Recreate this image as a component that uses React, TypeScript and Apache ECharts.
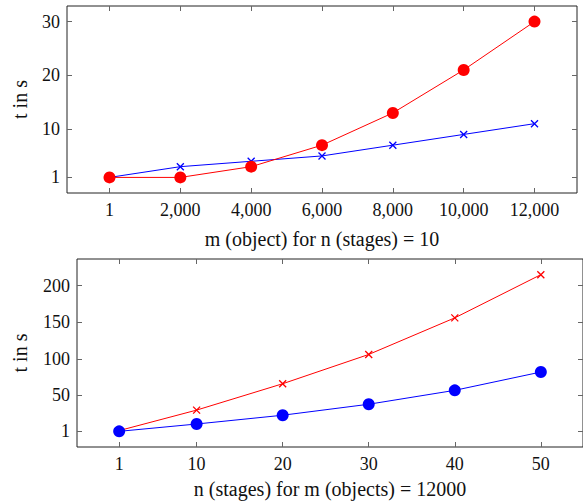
import React, { useEffect, useRef } from "react";
import * as echarts from "echarts";

// Top chart: m (objects) for n (stages) = 10
const topCategories = ["1", "2,000", "4,000", "6,000", "8,000", "10,000", "12,000"];
const topRed = [1, 1, 3, 7, 13, 21, 30];
const topBlue = [1, 3, 4, 5, 7, 9, 11];
const topYTicks = [1, 10, 20, 30];

// Bottom chart: n (stages) for m (objects) = 12000
const botX = [1, 10, 20, 30, 40, 50];
const botRed = [2, 30, 66, 106, 156, 215];
const botBlue = [1, 11, 23, 38, 57, 82];
const botYTicks = [1, 50, 100, 150, 200];

const FONT = "'Liberation Serif', 'DejaVu Serif', serif";
const CROSS = "path://M0,0L10,10M10,0L0,10";

export default function App() {
  const ref = useRef<HTMLDivElement>(null);
  useEffect(() => {
    if (!ref.current) return;
    const chart = echarts.init(ref.current, undefined, { renderer: "svg" });
    const topIdx = topCategories.map((_, i) => i);
    const tick = (vals: number[]) => ({
      show: true,
      inside: true,
      length: 5,
      customValues: vals,
      lineStyle: { color: "#666", width: 1 },
    });
    const label = (vals: number[], fmt?: (v: number) => string, margin = 8) => ({
      show: true,
      customValues: vals,
      formatter: fmt,
      fontFamily: FONT,
      fontSize: 18,
      color: "#111",
      margin,
    });
    const noLabel = { show: false };
    const common = {
      type: "value" as const,
      axisLine: { show: false, onZero: false },
      splitLine: { show: false },
    };
    const nameStyle = { fontFamily: FONT, fontSize: 20, color: "#111" };
    const option: any = {
      animation: false,
      textStyle: { fontFamily: FONT },
      grid: [
        { left: 67, top: 6, width: 510, height: 187, show: true, borderColor: "#222", borderWidth: 1, backgroundColor: "transparent" },
        { left: 77, top: 259, width: 509, height: 188, show: true, borderColor: "#222", borderWidth: 1, backgroundColor: "transparent" },
      ],
      xAxis: [
        {
          ...common, gridIndex: 0, min: -0.6, max: 6.6, position: "bottom",
          axisTick: tick(topIdx),
          axisLabel: label(topIdx, (v: number) => topCategories[Math.round(v)] ?? ""),
          name: "m (object) for n (stages) = 10", nameLocation: "middle", nameGap: 36,
          nameTextStyle: nameStyle,
        },
        { ...common, gridIndex: 0, min: -0.6, max: 6.6, position: "top", axisTick: tick(topIdx), axisLabel: noLabel },
        {
          ...common, gridIndex: 1, min: -3.9, max: 54.9, position: "bottom",
          axisTick: tick(botX),
          axisLabel: label(botX, (v: number) => String(v)),
          name: "n (stages) for m (objects) = 12000", nameLocation: "middle", nameGap: 32,
          nameTextStyle: nameStyle,
        },
        { ...common, gridIndex: 1, min: -3.9, max: 54.9, position: "top", axisTick: tick(botX), axisLabel: noLabel },
      ],
      yAxis: [
        {
          ...common, gridIndex: 0, min: -1.9, max: 32.9, position: "left",
          axisTick: tick(topYTicks),
          axisLabel: label(topYTicks, (v: number) => String(v), 7),
          name: "t in s", nameLocation: "middle", nameGap: 37,
          nameTextStyle: nameStyle,
        },
        { ...common, gridIndex: 0, min: -1.9, max: 32.9, position: "right", axisTick: tick(topYTicks), axisLabel: noLabel },
        {
          ...common, gridIndex: 1, min: -20.4, max: 236.4, position: "left",
          axisTick: tick(botYTicks),
          axisLabel: label(botYTicks, (v: number) => String(v), 7),
          name: "t in s", nameLocation: "middle", nameGap: 47,
          nameTextStyle: nameStyle,
        },
        { ...common, gridIndex: 1, min: -20.4, max: 236.4, position: "right", axisTick: tick(botYTicks), axisLabel: noLabel },
      ],
      series: [
        {
          type: "line", xAxisIndex: 0, yAxisIndex: 0,
          data: topBlue.map((v, i) => [i, v]),
          symbol: CROSS, symbolSize: 7,
          lineStyle: { color: "#0000ff", width: 1 },
          itemStyle: { color: "transparent", borderColor: "#0000ff", borderWidth: 1.3 },
        },
        {
          type: "line", xAxisIndex: 0, yAxisIndex: 0,
          data: topRed.map((v, i) => [i, v]),
          symbol: "circle", symbolSize: 12,
          lineStyle: { color: "#ff0000", width: 1 },
          itemStyle: { color: "#ff0000", borderWidth: 0 },
        },
        {
          type: "line", xAxisIndex: 2, yAxisIndex: 2,
          data: botRed.map((v, i) => [botX[i], v]),
          symbol: CROSS, symbolSize: 7,
          lineStyle: { color: "#ff0000", width: 1 },
          itemStyle: { color: "transparent", borderColor: "#ff0000", borderWidth: 1.3 },
        },
        {
          type: "line", xAxisIndex: 2, yAxisIndex: 2,
          data: botBlue.map((v, i) => [botX[i], v]),
          symbol: "circle", symbolSize: 12,
          lineStyle: { color: "#0000ff", width: 1 },
          itemStyle: { color: "#0000ff", borderWidth: 0 },
        },
      ],
    };
    chart.setOption(option);
    return () => chart.dispose();
  }, []);
  return (
    <div
      ref={ref}
      style={{ position: "absolute", left: 0, top: 0, width: 583, height: 502, background: "#fff" }}
    />
  );
}
